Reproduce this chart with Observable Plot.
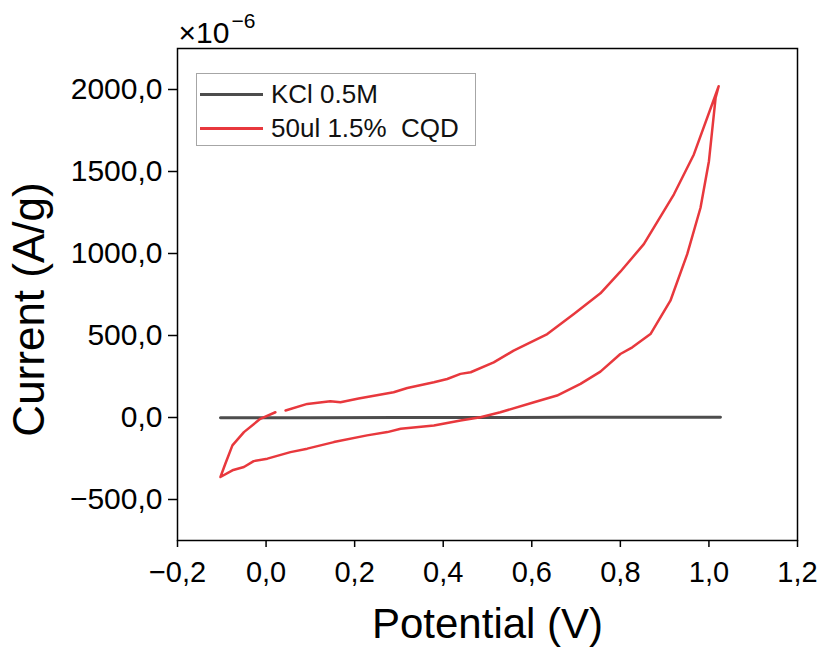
<!DOCTYPE html>
<html>
<head>
<meta charset="utf-8">
<script src="https://cdn.jsdelivr.net/npm/d3@7"></script>
<script src="https://cdn.jsdelivr.net/npm/@observablehq/plot@0.6"></script>
<style>
  body { margin: 0; background: white; }
  #fig { position: relative; width: 821px; height: 648px; font-family: "Liberation Sans", Arial, sans-serif; }
  #legend { position: absolute; left: 196px; top: 73px; width: 278px; height: 71px; border: 1.5px solid #a6a6a6; background: white; box-sizing: content-box; }
  .row { position: absolute; left: 0; height: 34px; display: flex; align-items: center; }
  .sw { margin-left: 3px; width: 63px; height: 3px; }
  .lab { margin-left: 8px; font-size: 26px; line-height: 1; white-space: pre; color: #111; }
</style>
</head>
<body>
<div id="fig"></div>
<script>
// ---- data ----
const seriesNames = ["KCl 0.5M", "50ul 1.5%  CQD"];
const seriesColors = ["#4d4d4d", "#e8383d"];

const kclV = [-0.103, 0.1, 0.3, 0.5, 0.7, 0.9, 1.026];
const kclI = [-2, -1, 0, 0, 1, 1, 2];

const cqdV = [0.044, 0.093, 0.145, 0.168, 0.209, 0.288, 0.319, 0.379, 0.409, 0.439, 0.462, 0.514, 0.559, 0.635, 0.695, 0.755, 0.800, 0.853, 0.921, 0.966, 1.022,
              1.015, 1.000, 0.981, 0.951, 0.913, 0.868, 0.827, 0.800, 0.755, 0.710, 0.657, 0.605, 0.529, 0.484, 0.439, 0.379, 0.304, 0.274, 0.228, 0.153, 0.093, 0.055, 0.003, -0.028, -0.050, -0.076, -0.103,
              -0.092, -0.076, -0.050, -0.013, 0.021];
const cqdI = [43, 83, 99, 93, 116, 154, 180, 215, 235, 266, 276, 336, 408, 509, 631, 757, 889, 1057, 1361, 1604, 2020,
              1948, 1563, 1279, 996, 712, 509, 428, 387, 280, 205, 134, 93, 32, 2, -18, -49, -69, -89, -109, -150, -190, -211, -251, -266, -302, -322, -363,
              -282, -170, -89, -8, 32];

const xTicks = [-0.2, 0, 0.2, 0.4, 0.6, 0.8, 1.0, 1.2];
const yTicks = [-500, 0, 500, 1000, 1500, 2000];
const xLabel = "Potential (V)";
const yLabel = "Current (A/g)";
const scaleBase = "×10";
const scaleExp = "−6";

// ---- helpers ----
const fmt = (d) => (d < 0 ? "−" : "") + Math.abs(d).toFixed(1).replace(".", ",");
const kcl = kclV.map((v, i) => ({v, c: kclI[i]}));
const cqd = cqdV.map((v, i) => ({v, c: cqdI[i]}));
const font = "'Liberation Sans', Arial, sans-serif";

const chart = Plot.plot({
  width: 821,
  height: 648,
  marginLeft: 177,
  marginRight: 24,
  marginTop: 48,
  marginBottom: 108,
  style: {fontFamily: font, color: "black", background: "white"},
  x: {domain: [-0.2, 1.2]},
  y: {domain: [-750, 2250]},
  marks: [
    Plot.axisX({ticks: xTicks, tickFormat: fmt, tickSize: 7, tickPadding: 14, fontSize: 29, label: null, strokeWidth: 1.5}),
    Plot.axisY({ticks: yTicks, tickFormat: fmt, tickSize: 9, tickPadding: 6, fontSize: 30, label: null, strokeWidth: 1.5}),
    Plot.line(kcl, {x: "v", y: "c", stroke: seriesColors[0], strokeWidth: 3}),
    Plot.line(cqd, {x: "v", y: "c", stroke: seriesColors[1], strokeWidth: 2.5}),
    Plot.frame({stroke: "black", strokeWidth: 1.5}),
    Plot.text([xLabel], {frameAnchor: "bottom", dy: 97, lineAnchor: "bottom", textAnchor: "middle", fontSize: 42, fill: "black"}),
    Plot.text([yLabel], {frameAnchor: "left", dx: -134, dy: 15, rotate: -90, lineAnchor: "bottom", textAnchor: "middle", fontSize: 44, fill: "black"}),
    Plot.text([scaleBase], {frameAnchor: "top-left", dx: 1, dy: -6, lineAnchor: "bottom", textAnchor: "start", fontSize: 30, fill: "black"}),
    Plot.text([scaleExp], {frameAnchor: "top-left", dx: 54, dy: -21, lineAnchor: "bottom", textAnchor: "start", fontSize: 21, fill: "black"})
  ]
});

const fig = document.getElementById("fig");
fig.appendChild(chart);

const legend = document.createElement("div");
legend.id = "legend";
seriesNames.forEach((name, i) => {
  const row = document.createElement("div");
  row.className = "row";
  row.style.top = (3 + i * 34) + "px";
  const sw = document.createElement("div");
  sw.className = "sw";
  sw.style.background = seriesColors[i];
  const lab = document.createElement("span");
  lab.className = "lab";
  lab.textContent = name;
  row.appendChild(sw);
  row.appendChild(lab);
  legend.appendChild(row);
});
fig.appendChild(legend);
</script>
</body>
</html>
